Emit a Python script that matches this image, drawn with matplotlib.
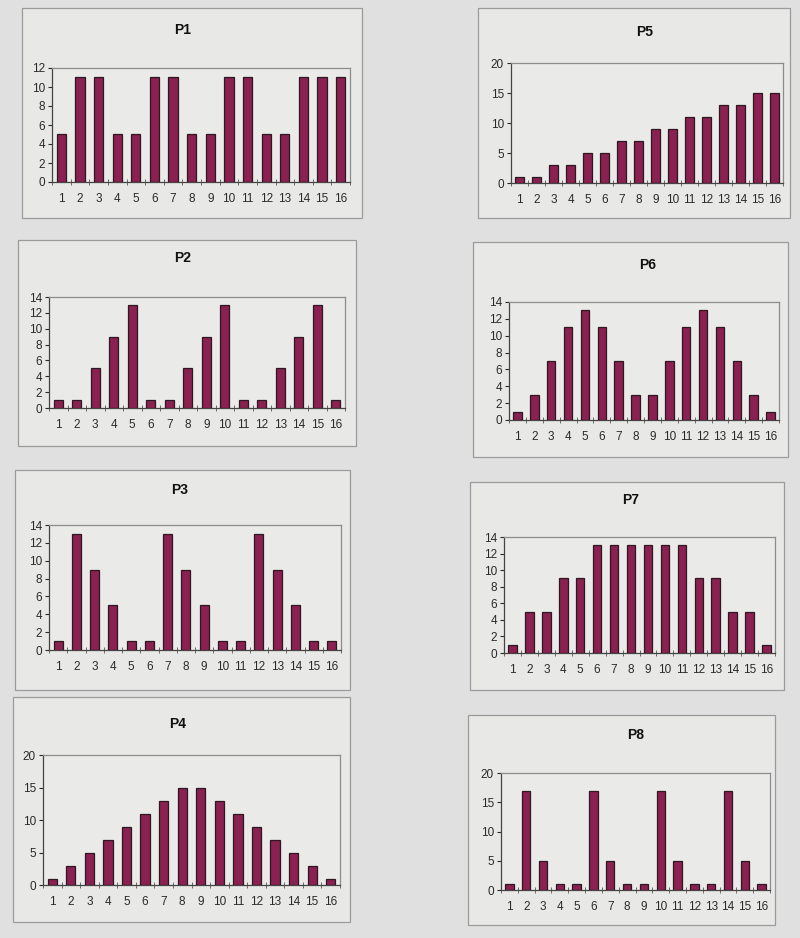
import matplotlib
matplotlib.use("Agg")
import matplotlib.pyplot as plt
from matplotlib.patches import Rectangle
import numpy as np

plt.rcParams["font.family"] = ["Liberation Sans", "DejaVu Sans"]

categories = list(range(1, 17))

p1 = [5, 11, 11, 5, 5, 11, 11, 5, 5, 11, 11, 5, 5, 11, 11, 11]
p2 = [1, 1, 5, 9, 13, 1, 1, 5, 9, 13, 1, 1, 5, 9, 13, 1]
p3 = [1, 13, 9, 5, 1, 1, 13, 9, 5, 1, 1, 13, 9, 5, 1, 1]
p4 = [1, 3, 5, 7, 9, 11, 13, 15, 15, 13, 11, 9, 7, 5, 3, 1]
p5 = [1, 1, 3, 3, 5, 5, 7, 7, 9, 9, 11, 11, 13, 13, 15, 15]
p6 = [1, 3, 7, 11, 13, 11, 7, 3, 3, 7, 11, 13, 11, 7, 3, 1]
p7 = [1, 5, 5, 9, 9, 13, 13, 13, 13, 13, 13, 9, 9, 5, 5, 1]
p8 = [1, 17, 5, 1, 1, 17, 5, 1, 1, 17, 5, 1, 1, 17, 5, 1]

titles = ["P1", "P2", "P3", "P4", "P5", "P6", "P7", "P8"]
series = [p1, p2, p3, p4, p5, p6, p7, p8]
y_max = [12, 14, 14, 20, 20, 14, 14, 20]
y_step = [2, 2, 2, 5, 5, 2, 2, 5]

W, H = 800, 938
fig = plt.figure(figsize=(W / 100, H / 100), dpi=100)
fig.patch.set_facecolor("#dfe0df")

# layout in pixels (x0, y0, x1, y1), top-left origin
boxes = [(22, 8, 362, 218), (18, 240, 356, 446), (15, 470, 350, 690), (13, 697, 350, 922),
         (478, 8, 790, 218), (473, 242, 788, 457), (470, 482, 784, 690), (468, 715, 775, 925)]
axes_px = [(52, 68, 350, 182), (49, 297, 345, 408), (49, 525, 341, 650), (43, 755, 340, 885),
           (511, 63, 783, 183), (509, 302, 779, 420), (504, 537, 775, 653), (501, 773, 770, 890)]
title_px = [(183, 30), (183, 258), (180, 490), (178, 724),
            (645, 32), (648, 265), (631, 500), (636, 735)]

bar_color = "#8a2150"
edge_color = "#2b1820"

for i in range(8):
    bx0, by0, bx1, by1 = boxes[i]
    fig.patches.append(Rectangle((bx0 / W, 1 - by1 / H), (bx1 - bx0) / W, (by1 - by0) / H,
                                 transform=fig.transFigure, facecolor="#e8e8e6",
                                 edgecolor="#9b9b9b", linewidth=0.9, zorder=-5))
    ax0, ay0, ax1, ay1 = axes_px[i]
    ax = fig.add_axes([ax0 / W, 1 - ay1 / H, (ax1 - ax0) / W, (ay1 - ay0) / H])
    ax.set_zorder(5)
    ax.set_facecolor("#eaeae8")
    ax.bar(categories, series[i], width=0.5, color=bar_color, edgecolor=edge_color,
           linewidth=0.9, zorder=3)
    ax.set_xlim(0.5, 16.5)
    ax.set_ylim(0, y_max[i])
    ax.set_yticks(np.arange(0, y_max[i] + 0.1, y_step[i]))
    ax.set_xticks(categories)
    ax.set_xticks(np.arange(0.5, 17, 1), minor=True)
    ax.tick_params(axis="x", which="major", length=0, labelsize=8.5, pad=8, colors="#2a2a2a")
    ax.tick_params(axis="x", which="minor", length=5, direction="inout", color="#555555")
    ax.tick_params(axis="y", which="major", length=3, direction="out", labelsize=8.5,
                   pad=2, colors="#2a2a2a")
    for s in ["top", "right"]:
        ax.spines[s].set_color("#8c8c8c")
        ax.spines[s].set_linewidth(0.9)
    for s in ["left", "bottom"]:
        ax.spines[s].set_color("#444444")
        ax.spines[s].set_linewidth(0.9)
    tx, ty = title_px[i]
    fig.text(tx / W, 1 - ty / H, titles[i], ha="center", va="center",
             fontsize=10, fontweight="bold", color="#111111")

fig.savefig("out.png", dpi=100, facecolor=fig.get_facecolor())
